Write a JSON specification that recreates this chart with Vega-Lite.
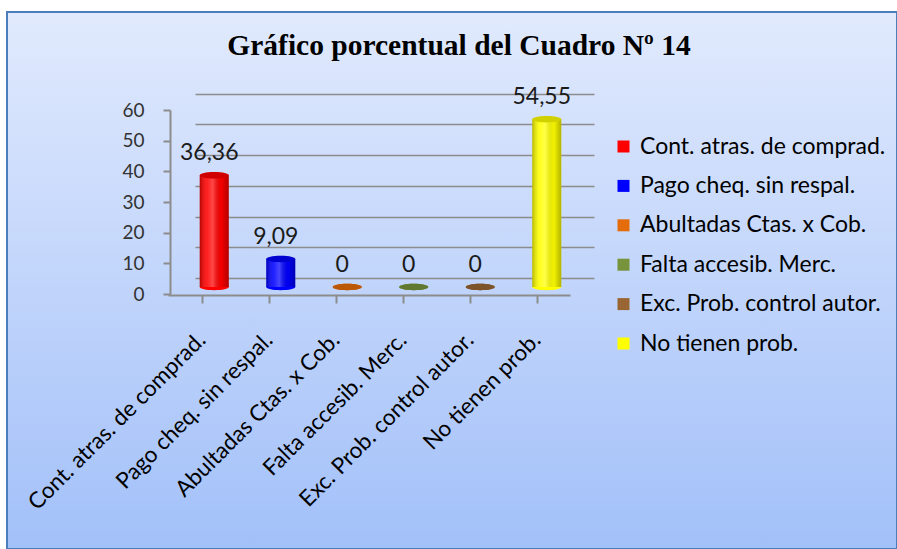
{
  "$schema": "https://vega.github.io/schema/vega-lite/v6.json",
  "width": 890,
  "height": 537,
  "padding": {"left": 7, "top": 12, "right": 0, "bottom": 0},
  "autosize": {"type": "none"},
  "background": "white",
  "view": {
    "fill": {"gradient": "linear", "x1": 0, "y1": 0, "x2": 0, "y2": 1, "stops": [{"offset": 0, "color": "#e1eafd"}, {"offset": 1, "color": "#a2c0f9"}]},
    "stroke": "#4a7ebb",
    "strokeWidth": 2
  },
  "config": {
    "font": "Lato",
    "locale": {"number": {"decimal": ",", "thousands": ".", "grouping": [3], "currency": ["", " €"]}}
  },
  "title": {
    "text": "Gráfico porcentual del Cuadro Nº 14",
    "font": "Liberation Serif",
    "fontSize": 29.5,
    "fontWeight": "bold",
    "color": "#000000",
    "frame": "group",
    "anchor": "middle",
    "baseline": "alphabetic",
    "offset": -44.7,
    "dy": 28,
    "dx": 7
  },
  "data": {
    "values": [
      {"categoria": "Cont. atras. de comprad.", "porcentaje": 36.36},
      {"categoria": "Pago cheq. sin respal.", "porcentaje": 9.09},
      {"categoria": "Abultadas Ctas. x Cob.", "porcentaje": 0},
      {"categoria": "Falta  accesib. Merc.", "porcentaje": 0},
      {"categoria": "Exc.  Prob.  control autor.", "porcentaje": 0},
      {"categoria": "No tienen prob.", "porcentaje": 54.55}
    ]
  },
  "layer": [
    {
      "encoding": {
        "x": {"field": "categoria", "type": "nominal", "sort": null, "scale": {"range": [188, 587], "paddingInner": 0, "paddingOuter": 0}, "axis": null},
        "y": {"field": "porcentaje", "type": "quantitative", "scale": {"domain": [0, 60], "range": [275, 90.5], "nice": false},
          "axis": {"grid": true, "gridColor": "#8c8c8c", "gridWidth": 1.5, "labels": false, "ticks": false, "domain": false, "tickOffset": -9, "values": [0, 10, 20, 30, 40, 50, 60], "title": null}}
      },
      "layer": [
        {
          "mark": {"type": "point", "shape": "M-1,0A1,0.22,0,1,1,1,0A1,0.22,0,1,1,-1,0Z", "size": 841, "filled": true, "opacity": 1, "strokeWidth": 0, "xOffset": -14},
          "encoding": {
            "y": {"datum": 0},
            "color": {"field": "categoria", "type": "nominal", "sort": null,
              "scale": {"domain": ["Cont. atras. de comprad.", "Pago cheq. sin respal.", "Abultadas Ctas. x Cob.", "Falta  accesib. Merc.", "Exc.  Prob.  control autor.", "No tienen prob."], "range": ["#ff0000", "#0000ff", "#e46c0a", "#77933c", "#996633", "#ffff00"]},
              "legend": {"orient": "none", "legendX": 605, "legendY": 123, "title": null, "symbolType": "square", "symbolSize": 144, "symbolStrokeWidth": 0, "symbolOpacity": 1, "labelFont": "Lato", "labelFontSize": 23, "labelColor": "#000000", "rowPadding": 15.4, "labelOffset": 5, "padding": 0, "labelLimit": 0}}
          }
        },
        {
          "mark": {"type": "bar", "width": 29, "xOffset": -14},
          "encoding": {
            "y2": {"datum": 0},
            "color": {"field": "categoria", "type": "nominal", "sort": null}
          }
        },
        {
          "mark": {"type": "bar", "width": 29, "xOffset": -14,
            "fill": {"gradient": "linear", "x1": 0, "y1": 0, "x2": 1, "y2": 0, "stops": [{"offset": 0, "color": "rgba(0,0,0,0.28)"}, {"offset": 0.25, "color": "rgba(255,255,255,0.12)"}, {"offset": 0.45, "color": "rgba(255,255,255,0.28)"}, {"offset": 0.75, "color": "rgba(0,0,0,0.05)"}, {"offset": 1, "color": "rgba(0,0,0,0.3)"}]}},
          "encoding": {"y2": {"datum": 0}}
        },
        {
          "mark": {"type": "point", "shape": "M-1,0A1,0.22,0,1,1,1,0A1,0.22,0,1,1,-1,0Z", "size": 841, "filled": true, "opacity": 1, "strokeWidth": 0, "xOffset": -14},
          "encoding": {"color": {"field": "categoria", "type": "nominal", "sort": null}}
        },
        {
          "mark": {"type": "point", "shape": "M-1,0A1,0.22,0,1,1,1,0A1,0.22,0,1,1,-1,0Z", "size": 841, "filled": true, "fill": "#000000", "opacity": 0.18, "strokeWidth": 0, "xOffset": -14},
          "encoding": {}
        },
        {
          "mark": {"type": "text", "xOffset": -14, "dx": -5, "dy": -22, "fontSize": 23, "color": "#1a1a1a", "baseline": "middle", "font": "Lato"},
          "encoding": {"text": {"field": "porcentaje", "type": "quantitative", "format": ".2~f"}}
        }
      ]
    },
    {
      "mark": {"type": "point", "opacity": 0},
      "encoding": {
        "x": {"field": "categoria", "type": "nominal", "sort": null, "scale": {"range": [161, 563], "paddingInner": 0, "paddingOuter": 0},
          "axis": {"orient": "bottom", "offset": -254, "bandPosition": 0, "tickSize": 8, "tickColor": "#8c8c8c", "tickWidth": 2, "domainColor": "#8c8c8c", "domainWidth": 2, "labelAngle": -45, "labelAlign": "right", "labelBaseline": "middle", "labelOffset": 0, "labelPadding": 33, "labelFont": "Lato", "labelFontSize": 22.5, "labelColor": "#000000", "labelLimit": 0, "title": null, "grid": false}},
        "y": {"field": "porcentaje", "type": "quantitative", "scale": {"domain": [0, 60], "range": [282, 98], "nice": false},
          "axis": {"orient": "left", "offset": -163, "values": [0, 10, 20, 30, 40, 50, 60], "tickSize": 7, "tickColor": "#8c8c8c", "tickWidth": 2, "domainColor": "#8c8c8c", "domainWidth": 2, "labelPadding": 19, "labelFont": "Lato", "labelFontSize": 19, "labelColor": "#333333", "title": null, "grid": false}}
      }
    }
  ],
  "resolve": {"scale": {"x": "independent", "y": "independent"}, "axis": {"x": "independent", "y": "independent"}}
}
